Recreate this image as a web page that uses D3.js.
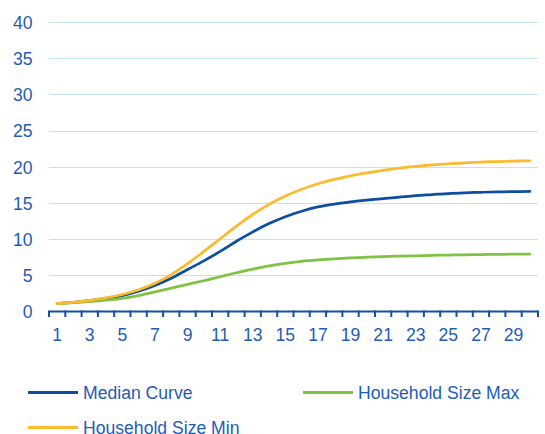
<!DOCTYPE html>
<html>
<head>
<meta charset="utf-8">
<script src="https://cdn.jsdelivr.net/npm/d3@7"></script>
<style>
  body { margin: 0; background: white; }
  text { font-family: "Liberation Sans", Arial, sans-serif; }
</style>
</head>
<body>
<div id="chart"></div>
<script>
// data
const days = d3.range(1, 31);
const medianCurve = [1.1, 1.25, 1.5, 1.8, 2.2, 2.8, 3.6, 4.6, 5.8, 7.0,
                     8.3, 9.7, 11.0, 12.15, 13.1, 13.85, 14.45, 14.85, 15.15, 15.4,
                     15.6, 15.8, 16.0, 16.15, 16.3, 16.4, 16.47, 16.52, 16.56, 16.6];
const sizeMax = [1.1, 1.22, 1.37, 1.56, 1.82, 2.2, 2.7, 3.22, 3.75, 4.25,
                 4.8, 5.35, 5.85, 6.3, 6.65, 6.92, 7.12, 7.28, 7.4, 7.5,
                 7.58, 7.65, 7.7, 7.75, 7.8, 7.84, 7.87, 7.9, 7.92, 7.93];
const sizeMin = [1.1, 1.3, 1.55, 1.9, 2.35, 3.0, 3.9, 5.1, 6.6, 8.3,
                 10.05, 11.8, 13.4, 14.8, 15.95, 16.9, 17.65, 18.25, 18.75, 19.15,
                 19.5, 19.8, 20.05, 20.25, 20.4, 20.55, 20.65, 20.72, 20.78, 20.82];
const yTicks = [0, 5, 10, 15, 20, 25, 30, 35, 40];

const series = [
  {name: "Median Curve", values: medianCurve, color: "#0c4ea2"},
  {name: "Household Size Max", values: sizeMax, color: "#80c242"},
  {name: "Household Size Min", values: sizeMin, color: "#fdba2c"}
];

const svgWidth = 545;
const svgHeight = 434;
const plot = {left: 49, right: 538, top: 22, bottom: 311.5};
const textColor = "#1f5cb4";
const fontSize = "17.6px";

let svg = d3.select("#chart")
  .append("svg")
  .attr("width", svgWidth)
  .attr("height", svgHeight);

// scales
var xScale = d3.scaleBand()
    .domain(days)
    .range([plot.left, plot.right]);
var yScale = d3.scaleLinear()
    .domain([0, 40])
    .range([plot.bottom, plot.top]);

// horizontal gridlines
svg.append("g")
  .selectAll("line")
  .data(yTicks.filter(d => d > 0))
  .join("line")
    .attr("x1", plot.left)
    .attr("x2", plot.right)
    .attr("y1", d => Math.round(yScale(d)) + 0.5)
    .attr("y2", d => Math.round(yScale(d)) + 0.5)
    .attr("stroke", "#c2e5f6")
    .attr("stroke-width", 1);

// y axis labels
let yAxis = svg.append("g")
  .attr("transform", "translate(" + (plot.left - 16.5) + ",0)")
  .call(d3.axisLeft(yScale).tickValues(yTicks).tickSize(0).tickPadding(0));
yAxis.select(".domain").remove();
yAxis.selectAll("text")
  .attr("fill", textColor)
  .style("font-size", fontSize)
  .attr("dy", "0.36em");

// x axis: ticks sit between the categories
let xAxis = svg.append("g")
  .attr("transform", "translate(0," + plot.bottom + ")");
xAxis.append("line")
  .attr("x1", plot.left)
  .attr("x2", plot.right)
  .attr("stroke", "#1550a8")
  .attr("stroke-width", 2);
xAxis.selectAll(".tick")
  .data(days.map(d => xScale(d)).concat([plot.right]))
  .join("line")
    .attr("class", "tick")
    .attr("x1", d => d)
    .attr("x2", d => d)
    .attr("y1", -1)
    .attr("y2", 5.5)
    .attr("stroke", "#1550a8")
    .attr("stroke-width", 2);
xAxis.selectAll(".label")
  .data(days.filter(d => d % 2 === 1))
  .join("text")
    .attr("class", "label")
    .attr("x", d => xScale(d) + xScale.bandwidth() / 2)
    .attr("y", 29)
    .attr("text-anchor", "middle")
    .attr("fill", textColor)
    .style("font-size", fontSize)
    .text(d => d);

// lines
var line = d3.line()
  .curve(d3.curveCatmullRom)
  .x((d, i) => xScale(days[i]) + xScale.bandwidth() / 2)
  .y(d => yScale(d));

svg.append("g")
  .selectAll("path")
  .data(series)
  .join("path")
    .attr("fill", "none")
    .attr("stroke", d => d.color)
    .attr("stroke-width", 2.75)
    .attr("stroke-linecap", "round")
    .attr("d", d => line(d.values));

// legend
const legendPos = [[28, 392.5], [303, 392.5], [28, 427.5]];
let legend = svg.append("g")
  .selectAll("g")
  .data(series)
  .join("g")
    .attr("transform", (d, i) => "translate(" + legendPos[i][0] + "," + legendPos[i][1] + ")");
legend.append("line")
  .attr("x1", 0)
  .attr("x2", 50)
  .attr("stroke", d => d.color)
  .attr("stroke-width", 3);
legend.append("text")
  .attr("x", 55)
  .attr("y", 6)
  .attr("fill", textColor)
  .style("font-size", fontSize)
  .text(d => d.name);
</script>
</body>
</html>
